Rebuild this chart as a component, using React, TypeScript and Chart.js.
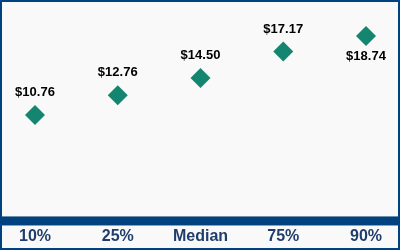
import React, { useEffect, useRef } from "react";
import { Chart, registerables } from "chart.js";

Chart.register(...registerables);

const categories = ["10%", "25%", "Median", "75%", "90%"];
const values = [10.76, 12.76, 14.5, 17.17, 18.74];
const valueLabels = ["$10.76", "$12.76", "$14.50", "$17.17", "$18.74"];
const labelBelow = [false, false, false, false, true];

const NAVY = "#00427f";
const TEAL = "#14866f";

const framePlugin = {
  id: "frame",
  beforeDraw(chart: any) {
    const { ctx, width, height } = chart;
    ctx.save();
    ctx.fillStyle = "#f9f9f9";
    ctx.fillRect(0, 0, width, height);
    ctx.restore();
  },
  afterDraw(chart: any) {
    const { ctx, width, height, chartArea } = chart;
    ctx.save();
    // axis band
    const b = chartArea.bottom;
    ctx.fillStyle = "#6f8fb0";
    ctx.fillRect(0, b, width, 1);
    ctx.fillStyle = NAVY;
    ctx.fillRect(0, b + 1, width, 8);
    ctx.fillStyle = "#8aa4c0";
    ctx.fillRect(0, b + 9, width, 1);
    // outer border
    ctx.strokeStyle = NAVY;
    ctx.lineWidth = 2;
    ctx.strokeRect(1, 1, width - 2, height - 2);
    // value labels
    const meta = chart.getDatasetMeta(0);
    ctx.font = "bold 13px 'Liberation Sans', Arial, sans-serif";
    ctx.fillStyle = "#000";
    ctx.textAlign = "center";
    ctx.textBaseline = "middle";
    meta.data.forEach((pt: any, i: number) => {
      const y = labelBelow[i] ? pt.y + 20 : pt.y - 22.5;
      ctx.fillText(valueLabels[i], pt.x, y);
    });
    ctx.restore();
  },
};

export default function App() {
  const ref = useRef<HTMLCanvasElement>(null);
  useEffect(() => {
    document.body.style.margin = "0";
    const chart = new Chart(ref.current!, {
      type: "scatter",
      data: {
        datasets: [
          {
            data: values.map((v, i) => ({ x: i, y: v })),
            pointStyle: "rectRot",
            pointRadius: 10,
            pointHoverRadius: 10,
            backgroundColor: TEAL,
            borderColor: TEAL,
            borderWidth: 0,
          },
        ],
      },
      options: {
        animation: false,
        responsive: false,
        maintainAspectRatio: false,
        layout: { padding: 0, autoPadding: false },
        plugins: { legend: { display: false }, tooltip: { enabled: false } },
        scales: {
          x: {
            type: "linear",
            min: -0.423,
            max: 4.411,
            grid: { display: false, drawTicks: false },
            border: { display: false },
            afterBuildTicks: (scale: any) => {
              scale.ticks = categories.map((_, i) => ({ value: i }));
            },
            afterFit: (scale: any) => {
              scale.height = 34;
            },
            ticks: {
              autoSkip: false,
              maxRotation: 0,
              padding: 11,
              color: "#1f3e6c",
              font: { family: "'Liberation Sans', Arial, sans-serif", size: 16, weight: "bold" },
              callback: (v: any) => categories[Math.round(Number(v))] ?? "",
            },
          },
          y: {
            display: false,
            min: 0.556,
            max: 22.376,
          },
        },
      },
      plugins: [framePlugin],
    });
    return () => chart.destroy();
  }, []);
  return (
    <div style={{ width: 400, height: 250 }}>
      <canvas ref={ref} width={400} height={250} style={{ display: "block" }} />
    </div>
  );
}
